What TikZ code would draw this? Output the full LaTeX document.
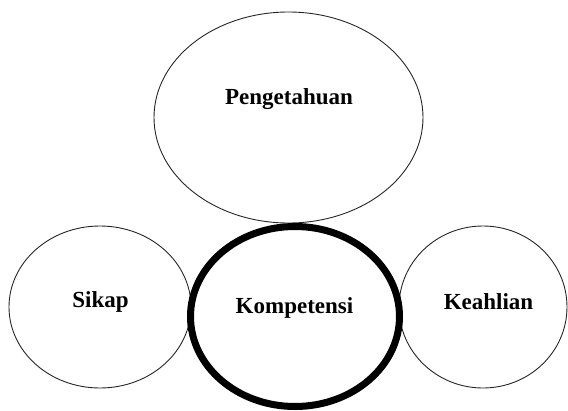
\documentclass[tikz,border=0pt]{standalone}
\usepackage{fontspec}
\setmainfont{Liberation Serif}
\begin{document}
\begin{tikzpicture}[x=1pt,y=-1pt,
  thinring/.style={draw=black!85,line width=0.9pt},
  thickring/.style={draw=black,line width=7pt},
  label/.style={font=\bfseries\fontsize{23}{27}\selectfont,anchor=base,inner sep=0pt}]
\useasboundingbox (0,0) rectangle (568,410);
\coordinate (cP) at (288.5,117.5);
\coordinate (cS) at (100,307);
\coordinate (cH) at (483,307);
\coordinate (cK) at (295,316.5);
\draw[thinring] (cP) ellipse [x radius=134.5, y radius=105.5];
\draw[thinring] (cS) ellipse [x radius=91, y radius=81];
\draw[thinring] (cH) ellipse [x radius=84, y radius=81];
\draw[thickring] (cK) ellipse [x radius=104.5, y radius=90];
\node[label] (tP) at (289,104) {Pengetahuan};
\node[label] (tS) at (100.5,307) {Sikap};
\node[label] (tK) at (294.5,313) {Kompetensi};
\node[label] (tH) at (488.5,309) {Keahlian};
\end{tikzpicture}
\end{document}
